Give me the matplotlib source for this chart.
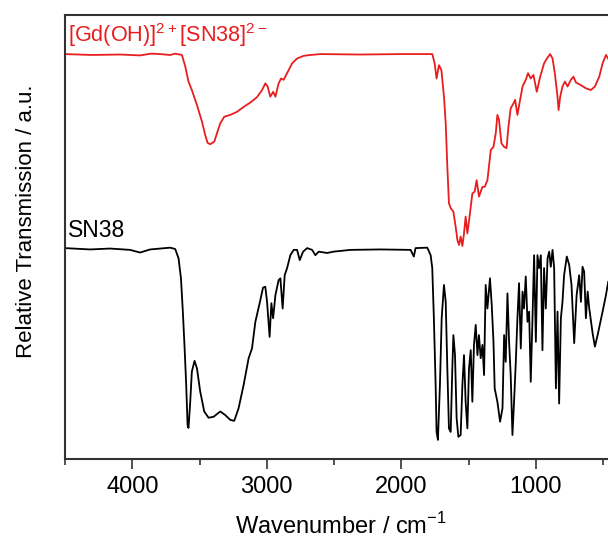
import matplotlib
matplotlib.use("Agg")
import matplotlib.pyplot as plt
from matplotlib.ticker import MultipleLocator

plt.rcParams['font.family'] = ['Liberation Sans', 'DejaVu Sans']
plt.rcParams['mathtext.fontset'] = 'custom'
plt.rcParams['mathtext.rm'] = 'Liberation Sans'

# IR spectrum of the Gd complex (wavenumber / cm-1, relative transmission)
gd_wn = [4500, 4300, 4090, 3942, 3860, 3793, 3718, 3681, 3631, 3606, 3582, 3557,
         3519, 3482, 3458, 3440, 3420, 3390, 3370, 3346, 3316, 3271, 3221, 3172,
         3122, 3073, 3035, 3011, 2994, 2974, 2953, 2936, 2912, 2894, 2875, 2849,
         2812, 2775, 2726, 2676, 2601, 2303, 2006, 1770, 1752, 1738, 1720, 1702,
         1683, 1670, 1658, 1646, 1633, 1613, 1596, 1583, 1571, 1559, 1546, 1534,
         1522, 1509, 1490, 1472, 1455, 1440, 1423, 1397, 1380, 1360, 1335, 1315,
         1298, 1286, 1274, 1256, 1236, 1218, 1204, 1187, 1166, 1154, 1137, 1117,
         1099, 1075, 1058, 1038, 1018, 993, 968, 939, 918, 894, 876, 859,
         839, 831, 819, 802, 784, 764, 740, 720, 702, 665, 628, 591,
         561, 529, 504, 479, 457]
gd_tr = [91.2, 91.0, 91.1, 90.9, 91.3, 91.2, 91.0, 91.3, 91.0, 88.4, 85.0, 83.1,
         79.7, 76.0, 73.0, 71.2, 70.9, 71.5, 73.4, 75.6, 77.1, 77.5, 78.2, 79.3,
         80.3, 81.5, 83.1, 84.6, 83.9, 81.6, 82.7, 81.6, 84.6, 85.7, 85.4, 86.9,
         89.1, 90.2, 90.8, 91.0, 91.2, 91.1, 91.2, 91.2, 89.1, 85.7, 88.7, 87.6,
         81.6, 75.6, 65.8, 57.6, 56.5, 55.7, 52.3, 49.3, 48.2, 50.1, 48.0, 50.8,
         54.6, 50.8, 55.3, 59.8, 60.2, 62.8, 59.1, 61.3, 61.3, 62.8, 69.6, 70.3,
         73.4, 77.5, 76.4, 71.1, 70.3, 70.0, 74.8, 79.0, 80.1, 80.9, 77.5, 80.9,
         83.9, 85.4, 86.9, 85.7, 86.5, 82.7, 86.1, 89.1, 90.2, 91.2, 90.2, 86.9,
         81.6, 78.6, 81.6, 83.9, 85.0, 83.9, 85.4, 86.1, 84.8, 84.2, 83.5, 83.1,
         83.9, 86.1, 89.1, 91.0, 89.9]

# IR spectrum of free SN38
sn_wn = [4500, 4314, 4165, 4016, 3942, 3867, 3718, 3681, 3656, 3638, 3624, 3612,
         3599, 3589, 3582, 3569, 3557, 3537, 3519, 3495, 3465, 3433, 3396, 3346,
         3309, 3271, 3242, 3210, 3172, 3135, 3110, 3085, 3053, 3028, 3011, 2998,
         2979, 2966, 2953, 2936, 2912, 2899, 2882, 2867, 2849, 2825, 2800, 2775,
         2755, 2730, 2700, 2663, 2639, 2614, 2551, 2505, 2378, 2155, 1931, 1907,
         1894, 1807, 1782, 1770, 1758, 1745, 1738, 1728, 1713, 1700, 1683, 1670,
         1658, 1646, 1633, 1621, 1613, 1601, 1589, 1576, 1559, 1546, 1534, 1522,
         1509, 1497, 1484, 1472, 1460, 1447, 1434, 1423, 1410, 1397, 1385, 1373,
         1360, 1341, 1328, 1315, 1306, 1286, 1266, 1248, 1236, 1224, 1211, 1199,
         1187, 1174, 1162, 1149, 1137, 1125, 1112, 1099, 1088, 1075, 1062, 1050,
         1038, 1025, 1013, 1000, 988, 976, 963, 951, 939, 926, 913, 901,
         889, 876, 864, 851, 839, 827, 814, 802, 790, 770, 752, 735,
         715, 697, 678, 665, 653, 641, 628, 615, 603, 578, 561, 541,
         522, 504, 479, 462]
sn_tr = [47.5, 47.2, 47.4, 47.1, 46.5, 47.2, 47.6, 47.3, 45.2, 40.7, 33.2, 25.7,
         16.7, 7.7, 7.0, 12.9, 19.7, 22.1, 20.4, 15.2, 10.7, 9.3, 9.5, 10.7,
         9.9, 8.8, 8.6, 11.4, 16.7, 22.7, 24.9, 30.9, 35.1, 38.6, 38.8, 35.4,
         27.5, 35.1, 31.7, 36.9, 40.3, 40.7, 33.9, 41.4, 43.0, 45.9, 47.1, 47.1,
         44.8, 46.7, 47.5, 47.1, 45.9, 46.7, 46.4, 46.7, 47.1, 47.2, 47.1, 45.6,
         47.5, 47.6, 45.9, 43.0, 31.7, 16.7, 6.1, 4.3, 16.7, 31.7, 39.2, 35.4,
         20.4, 6.9, 6.1, 20.4, 27.9, 23.4, 9.2, 5.0, 5.4, 16.7, 23.4, 12.9,
         6.9, 20.4, 24.5, 12.9, 25.7, 30.2, 23.4, 27.9, 22.7, 25.7, 18.9, 39.2,
         33.9, 40.7, 34.7, 26.4, 15.9, 12.9, 8.4, 11.4, 27.9, 21.9, 37.3, 26.4,
         18.9, 5.4, 12.9, 21.9, 31.7, 39.6, 24.9, 37.7, 33.9, 41.1, 30.9, 33.2,
         17.4, 31.7, 45.9, 26.4, 45.9, 43.0, 45.9, 24.5, 43.0, 33.9, 45.2, 46.7,
         43.3, 47.1, 43.0, 15.9, 33.2, 12.5, 31.7, 35.4, 41.4, 45.6, 43.7, 39.2,
         26.1, 36.9, 41.4, 35.4, 43.3, 42.2, 31.7, 37.7, 33.9, 28.3, 25.3, 27.9,
         30.6, 33.2, 36.9, 39.9]

fig = plt.figure(figsize=(6.08, 5.4), dpi=100)
ax = fig.add_axes([0.1069, 0.15, 0.9072, 0.8222])

ax.plot(gd_wn, gd_tr, color='#e81e1e', lw=1.3)
ax.plot(sn_wn, sn_tr, color='black', lw=1.3)

ax.set_xlim(4500, 400)
ax.set_ylim(0, 100)

ax.xaxis.set_major_locator(MultipleLocator(1000))
ax.xaxis.set_minor_locator(MultipleLocator(500))
ax.tick_params(axis='x', which='major', direction='out', length=7, width=1.2,
               labelsize=17, pad=5, color='#333333')
ax.tick_params(axis='x', which='minor', direction='out', length=4.5, width=1.2,
               color='#333333')
ax.set_yticks([])

for side in ['top', 'bottom', 'left']:
    ax.spines[side].set_linewidth(1.5)
    ax.spines[side].set_color('#333333')
ax.spines['right'].set_visible(False)

ax.set_xlabel('Wavenumber / cm$^{-1}$', fontsize=17, labelpad=11)
ax.set_ylabel('Relative Transmission / a.u.', fontsize=16)
ax.yaxis.set_label_coords(-0.05, 0.536)

ax.text(0.006, 0.94, '[Gd(OH)]$^{2+}$[SN38]$^{2-}$', transform=ax.transAxes,
        color='#e81e1e', fontsize=15.6, ha='left', va='baseline')
ax.text(0.005, 0.5, 'SN38', transform=ax.transAxes, color='black',
        fontsize=16.5, ha='left', va='baseline')

fig.savefig('out.png', dpi=100)
